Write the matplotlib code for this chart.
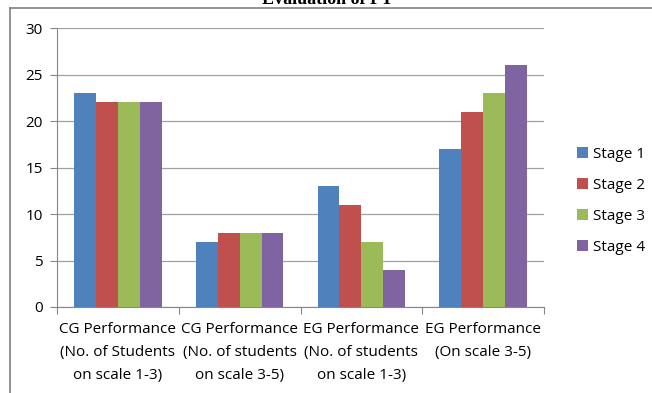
import numpy as np
import matplotlib
matplotlib.use("Agg")
from matplotlib import pyplot as plt
from matplotlib.lines import Line2D

categories = [
    "CG Performance\n(No. of Students\non scale 1-3)",
    "CG Performance\n(No. of students\non scale 3-5)",
    "EG Performance\n(No. of students\non scale 1-3)",
    "EG Performance\n(On scale 3-5)",
]
stage_names = ["Stage 1", "Stage 2", "Stage 3", "Stage 4"]
stage_1 = [23, 7, 13, 17]
stage_2 = [22, 8, 11, 21]
stage_3 = [22, 8, 7, 23]
stage_4 = [22, 8, 4, 26]
colors = ["#4F81BD", "#C0504D", "#9BBB59", "#8064A2"]

fig = plt.figure(figsize=(6.52, 3.93), dpi=100)
ax = fig.add_axes([57 / 652, 1 - 307 / 393, (544 - 57) / 652, (307 - 28) / 393])

x = np.arange(len(categories))
width = 0.18
series = [stage_1, stage_2, stage_3, stage_4]
for i, vals in enumerate(series):
    ax.bar(x + (i - 1.5) * width, vals, width, color=colors[i],
           label=stage_names[i], zorder=3)

ax.set_xlim(-0.5, len(categories) - 0.5)
ax.set_ylim(0, 30)
ax.set_yticks(range(0, 31, 5))
ax.yaxis.grid(True, color="#A0A0A0", linewidth=0.9, zorder=0)

# category ticks sit on the group boundaries, labels in the middle
ax.set_xticks(np.arange(-0.5, len(categories), 1.0))
ax.set_xticklabels([])
ax.set_xticks(x, minor=True)
ax.set_xticklabels(categories, minor=True, fontsize=11, family="Open Sans",
                   linespacing=1.72)
ax.tick_params(axis="x", which="major", length=5, color="#868686")
ax.tick_params(axis="x", which="minor", length=0, pad=11)
ax.tick_params(axis="y", length=5, color="#868686", labelsize=11, pad=5)
for lbl in ax.get_yticklabels():
    lbl.set_family("Open Sans")

for side in ["top", "right"]:
    ax.spines[side].set_visible(False)
for side in ["left", "bottom"]:
    ax.spines[side].set_color("#868686")

leg = ax.legend(loc="center left", bbox_to_anchor=(1.04, 0.38), frameon=False,
                handlelength=0.7, handleheight=0.7, handletextpad=0.35,
                labelspacing=1.05, prop={"family": "Open Sans", "size": 11})

# chart frame lines
fig.add_artist(Line2D([10 / 652, 10 / 652], [0, 1 - 8 / 393], color="#808080", linewidth=1.2))
fig.add_artist(Line2D([10 / 652, 1], [1 - 8 / 393, 1 - 8 / 393], color="#808080", linewidth=1.2))

fig.text(0.503, 1 - 4 / 393, "Evaluation of PT", ha="center", va="baseline",
         fontsize=13, fontweight="bold", family="Liberation Serif")

fig.savefig("out.png", dpi=100)
